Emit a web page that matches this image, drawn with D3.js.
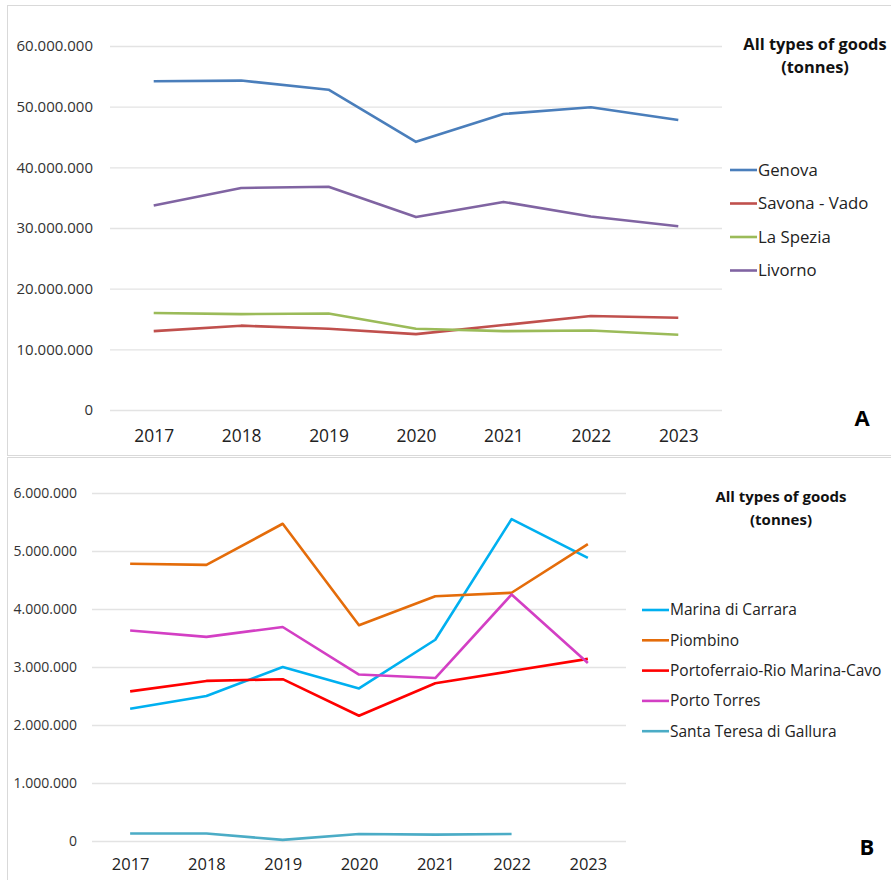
<!DOCTYPE html>
<html lang="en">
<head>
    <meta charset="UTF-8">
    <title>ports-goods</title>
    <style>
        body {
            margin: 0;
            background: #fff;
            font-family: "Open Sans", sans-serif;
            color: #222;
        }
    </style>
    <script src="https://d3js.org/d3.v7.min.js"></script>
</head>
<body>

<script>

    let years = ["2017", "2018", "2019", "2020", "2021", "2022", "2023"]

    // panel A
    let namesA = ["Genova", "Savona - Vado", "La Spezia", "Livorno"]
    let colorsA = ["#4a7ebb", "#c0504d", "#9bbb59", "#8064a2"]
    let genova = [54200000, 54300000, 52800000, 44200000, 48800000, 49900000, 47800000]
    let savona = [13000000, 13900000, 13400000, 12500000, 14000000, 15500000, 15200000]
    let laSpezia = [16000000, 15800000, 15900000, 13400000, 13000000, 13100000, 12400000]
    let livorno = [33700000, 36600000, 36800000, 31800000, 34300000, 31900000, 30300000]
    let ticksA = [0, 10000000, 20000000, 30000000, 40000000, 50000000, 60000000]

    // panel B
    let namesB = ["Marina di Carrara", "Piombino", "Portoferraio-Rio Marina-Cavo", "Porto Torres", "Santa Teresa di Gallura"]
    let colorsB = ["#00b0f0", "#e46c0a", "#ff0000", "#d33fc4", "#4bacc6"]
    let carrara = [2280000, 2500000, 3000000, 2630000, 3470000, 5550000, 4880000]
    let piombino = [4780000, 4760000, 5470000, 3720000, 4220000, 4280000, 5120000]
    let portoferraio = [2580000, 2760000, 2790000, 2160000, 2720000, 2930000, 3140000]
    let portoTorres = [3630000, 3520000, 3690000, 2870000, 2810000, 4250000, 3070000]
    let santaTeresa = [130000, 130000, 20000, 120000, 110000, 120000, null]
    let ticksB = [0, 1000000, 2000000, 3000000, 4000000, 5000000, 6000000]

    let gridColor = "#e3e3e3"
    let borderColor = "#d9d9d9"

    let fmt = function (v) {
        return v === 0 ? "0" : d3.format(",")(v).replace(/,/g, ".")
    }

    let svg = d3.select("body").append("svg")
        .attr("width", 891).attr("height", 880)

    function drawPanel(opt) {
        let g = svg.append("g")

        g.append("rect")
            .attr("x", opt.box[0] + 0.5).attr("y", opt.box[1] + 0.5)
            .attr("width", opt.box[2]).attr("height", opt.box[3])
            .attr("fill", "none").attr("stroke", borderColor)

        let x = d3.scalePoint().domain(years).range([opt.x0, opt.x1]).padding(0.5)
        let y = d3.scaleLinear().domain([0, opt.max]).range([opt.y0, opt.y1])

        // gridlines + y labels
        let yAxis = d3.axisLeft(y).tickValues(opt.ticks).tickFormat(fmt)
            .tickSize(-(opt.x1 - opt.x0)).tickPadding(opt.tickPad)
        let ya = g.append("g").attr("transform", "translate(" + opt.x0 + ",0)").call(yAxis)
        ya.select(".domain").remove()
        ya.selectAll("line").attr("stroke", gridColor).attr("stroke-width", 1.3)
        ya.selectAll("text").attr("font-family", "Open Sans").attr("font-size", opt.yFont)
            .attr("fill", "#333")

        let xAxis = d3.axisBottom(x).tickSize(0).tickPadding(opt.xPad)
        let xa = g.append("g").attr("transform", "translate(0," + opt.y0 + ")").call(xAxis)
        xa.select(".domain").remove()
        xa.selectAll("text").attr("font-family", "Open Sans").attr("font-size", opt.xFont)
            .attr("fill", "#222")

        let line = d3.line()
            .defined(function (d) { return d !== null })
            .x(function (d, i) { return x(years[i]) })
            .y(function (d) { return y(d) })

        g.selectAll(".series")
            .data(opt.series)
            .enter()
            .append("path")
            .attr("d", function (d) { return line(d) })
            .attr("fill", "none")
            .attr("stroke", function (d, i) { return opt.colors[i] })
            .attr("stroke-width", 2.6)
            .attr("stroke-linejoin", "round")

        // legend title
        let title = g.append("text")
            .attr("x", opt.titleX).attr("y", opt.titleY)
            .attr("text-anchor", "middle")
            .attr("font-weight", "bold").attr("font-size", opt.titleFont)
            .attr("fill", "#111")
        title.append("tspan").attr("x", opt.titleX).text("All types of goods")
        title.append("tspan").attr("x", opt.titleX).attr("dy", opt.titleGap).text("(tonnes)")

        let leg = g.selectAll(".leg")
            .data(opt.names)
            .enter()
            .append("g")
            .attr("transform", function (d, i) {
                return "translate(" + opt.legX + "," + (opt.legY + i * opt.legStep) + ")"
            })
        leg.append("line")
            .attr("x1", 0).attr("x2", 27)
            .attr("stroke", function (d, i) { return opt.colors[i] })
            .attr("stroke-width", 2.6)
        leg.append("text")
            .attr("x", 28).attr("dy", "0.35em")
            .attr("font-size", opt.legFont)
            .attr("fill", "#222")
            .text(function (d) { return d })

        g.append("text")
            .attr("x", opt.tagX).attr("y", opt.tagY)
            .attr("text-anchor", "middle")
            .attr("font-weight", "bold").attr("font-size", 22)
            .attr("fill", "#000")
            .text(opt.tag)
    }

    drawPanel({
        box: [7, 5, 900, 450],
        x0: 110, x1: 722, y0: 410, y1: 46, max: 60000000,
        ticks: ticksA, tickPad: 17, yFont: 15, xPad: 20, xFont: 17.4,
        series: [genova, savona, laSpezia, livorno],
        names: namesA, colors: colorsA,
        titleX: 815, titleY: 50, titleGap: 23, titleFont: 16.4,
        legX: 730, legY: 170, legStep: 33.5, legFont: 16.8,
        tag: "A", tagX: 862, tagY: 426
    })

    drawPanel({
        box: [7, 457, 900, 430],
        x0: 92, x1: 626, y0: 841, y1: 493, max: 6000000,
        ticks: ticksB, tickPad: 15, yFont: 14, xPad: 17, xFont: 16.5,
        series: [carrara, piombino, portoferraio, portoTorres, santaTeresa],
        names: namesB, colors: colorsB,
        titleX: 781, titleY: 502, titleGap: 23, titleFont: 15,
        legX: 642, legY: 610, legStep: 30.3, legFont: 15.5,
        tag: "B", tagX: 867, tagY: 855
    })

</script>

</body>
</html>
